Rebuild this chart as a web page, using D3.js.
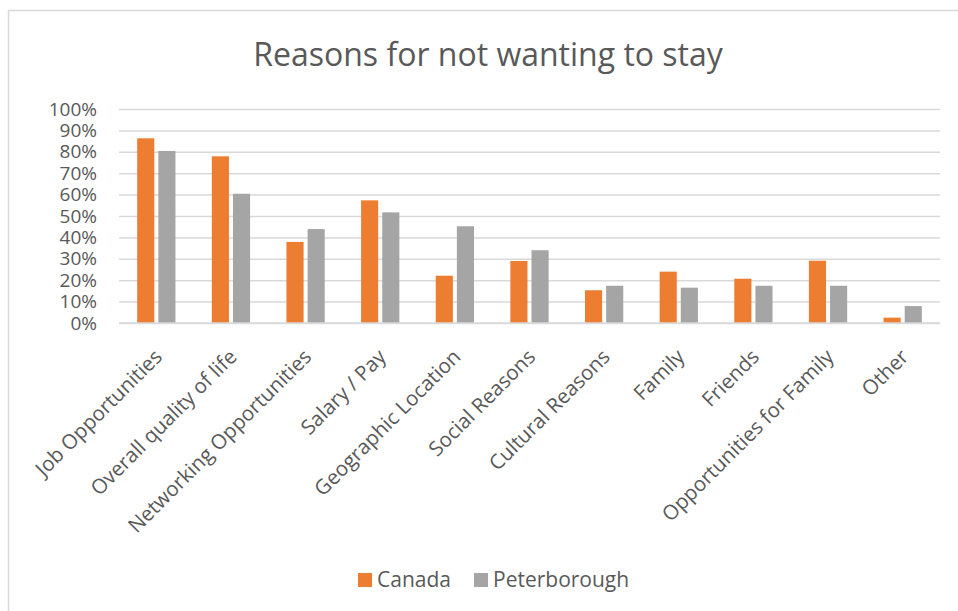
<!DOCTYPE html>
<html>
<head>
<meta charset="utf-8">
<script src="https://cdn.jsdelivr.net/npm/d3@7"></script>
<style>
  body { margin: 0; background: #fff; }
  svg { display: block; font-family: 'Open Sans', sans-serif; }
</style>
</head>
<body>
<div id="chart"></div>
<script>
const categories = [
  'Job Opportunities', 'Overall quality of life', 'Networking Opportunities',
  'Salary / Pay', 'Geographic Location', 'Social Reasons', 'Cultural Reasons',
  'Family', 'Friends', 'Opportunities for Family', 'Other'
]
const seriesNames = ['Canada', 'Peterborough']
const canada = [0.863, 0.779, 0.379, 0.573, 0.221, 0.29, 0.153, 0.24, 0.207, 0.291, 0.025]
const peterborough = [0.804, 0.604, 0.439, 0.517, 0.452, 0.34, 0.174, 0.165, 0.174, 0.174, 0.079]
const yTicks = [0, 0.1, 0.2, 0.3, 0.4, 0.5, 0.6, 0.7, 0.8, 0.9, 1]
const colors = ['#ed7d31', '#a5a5a5']

const width = 958
const height = 611
const margin = { top: 109, right: 18, bottom: 288, left: 119 }
const textColor = '#595959'
const gridColor = '#d9d9d9'

const data = categories.map((c, i) => ({ category: c, values: [canada[i], peterborough[i]] }))

const svg = d3.select('#chart').append('svg')
  .attr('width', width)
  .attr('height', height)

// chart area border (runs off the right and bottom edges)
svg.append('rect')
  .attr('x', 8.5).attr('y', 10.5)
  .attr('width', 980).attr('height', 700)
  .attr('fill', '#fff')
  .attr('stroke', gridColor)
  .attr('stroke-width', 1.5)

svg.append('text')
  .attr('x', 488).attr('y', 66)
  .attr('text-anchor', 'middle')
  .attr('fill', textColor)
  .style('font-size', '32px')
  .text('Reasons for not wanting to stay')

const g = svg.append('g')
  .attr('transform', 'translate(' + margin.left + ',' + margin.top + ')')

const innerW = width - margin.left - margin.right
const innerH = height - margin.top - margin.bottom

const x0 = d3.scaleBand().domain(categories).range([0, innerW])
const x1 = d3.scaleBand().domain(seriesNames).range([0, x0.bandwidth()])
  .paddingInner(0.19).paddingOuter(0.86)
const y = d3.scaleLinear().domain([0, 1]).range([innerH, 0])

// gridlines + y labels
const yAxis = d3.axisLeft(y)
  .tickValues(yTicks)
  .tickFormat(d3.format('.0%'))
  .tickSize(-innerW)
  .tickPadding(22)

g.append('g')
  .attr('class', 'axis axis--y')
  .call(yAxis)
  .call(s => s.select('.domain').remove())
  .call(s => s.selectAll('.tick line').attr('stroke', gridColor).attr('stroke-width', 1.5))
  .call(s => s.selectAll('.tick text')
    .attr('fill', textColor)
    .style('font-size', '19px')
    .style('font-family', "'Open Sans', sans-serif"))

// bars
const groups = g.append('g').attr('class', 'g-plot')
  .selectAll('.column')
  .data(data)
  .enter()
  .append('g')
  .attr('transform', d => 'translate(' + x0(d.category) + ',0)')

groups.selectAll('rect')
  .data(d => d.values.map((v, i) => ({ key: seriesNames[i], value: v, i })))
  .enter()
  .append('rect')
  .attr('x', d => x1(d.key))
  .attr('y', d => y(d.value))
  .attr('width', x1.bandwidth())
  .attr('height', d => innerH - y(d.value))
  .attr('fill', d => colors[d.i])

// baseline
g.append('line')
  .attr('x1', 0).attr('x2', innerW)
  .attr('y1', innerH).attr('y2', innerH)
  .attr('stroke', gridColor)
  .attr('stroke-width', 1.5)

// rotated category labels
g.append('g')
  .attr('class', 'axis axis--categories')
  .selectAll('text')
  .data(categories)
  .enter()
  .append('text')
  .attr('transform', d => 'translate(' + (x0(d) + x0.bandwidth() / 2 + 2) + ',' + (innerH + 30) + ') rotate(-45)')
  .attr('text-anchor', 'end')
  .attr('dy', '0.35em')
  .attr('fill', textColor)
  .style('font-size', '20.5px')
  .text(d => d)

// legend
const legend = svg.append('g').attr('class', 'legend')
const legendX = [358, 474]
seriesNames.forEach((name, i) => {
  legend.append('rect')
    .attr('x', legendX[i]).attr('y', 573)
    .attr('width', 14).attr('height', 14)
    .attr('fill', colors[i])
  legend.append('text')
    .attr('x', legendX[i] + 19).attr('y', 587)
    .attr('fill', textColor)
    .style('font-size', '21px')
    .text(name)
})
</script>
</body>
</html>
